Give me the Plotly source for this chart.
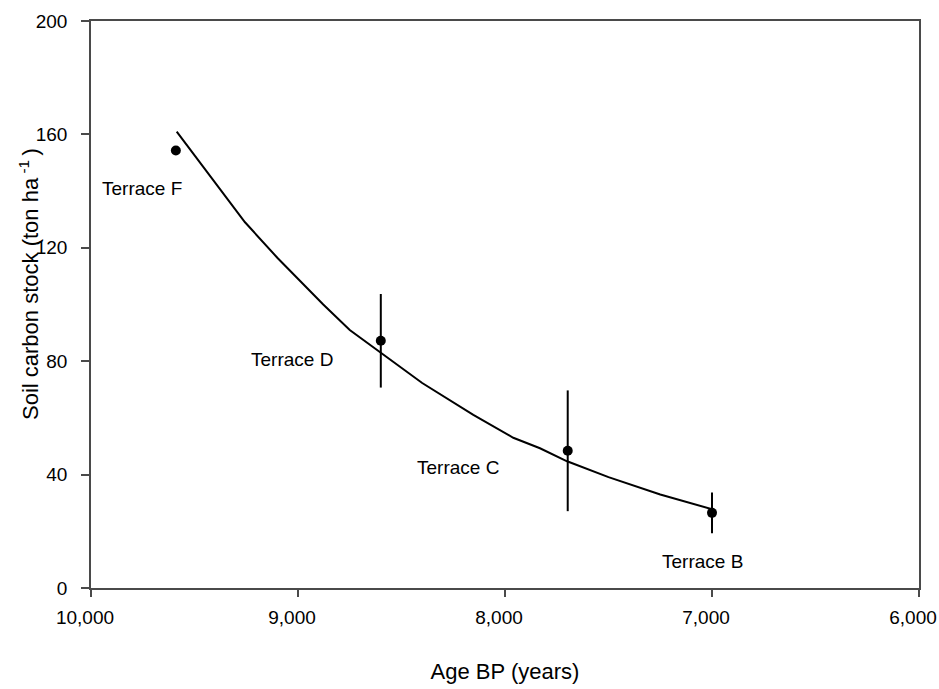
import plotly.graph_objects as go

terraces = ["Terrace F", "Terrace D", "Terrace C", "Terrace B"]
age_bp = [9590, 8600, 7697, 7000]
carbon_stock = [154.3, 87.2, 48.4, 26.5]
carbon_err = [0, 16.5, 21.3, 7.2]

# Fitted curve
fit_age = [9586, 9400, 9256, 9100, 8878, 8750, 8600, 8400, 8153, 7960, 7831, 7700, 7500, 7250, 7000]
fit_stock = [161, 143, 129, 116.5, 100, 91, 83, 72.3, 61.1, 53, 49.3, 44.7, 39.1, 33, 27.8]

# Label positions for each terrace
label_age = [9756, 9029, 8227, 7044]
label_stock = [140.8, 80.5, 42.4, 9.3]

x_ticks = [10000, 9000, 8000, 7000, 6000]
x_ticktext = ["10,000", "9,000", "8,000", "7,000", "6,000"]
y_ticks = [0, 40, 80, 120, 160, 200]

FONT = "Liberation Sans, Arial, sans-serif"
AXIS_COLOR = "#4a4a4a"

fig = go.Figure()

fig.add_trace(go.Scatter(
    x=fit_age, y=fit_stock, mode="lines",
    line=dict(color="black", width=2),
    showlegend=False, hoverinfo="skip",
))

fig.add_trace(go.Scatter(
    x=age_bp, y=carbon_stock, mode="markers",
    marker=dict(color="black", size=10),
    error_y=dict(type="data", array=carbon_err, visible=True,
                 color="black", thickness=2, width=0),
    showlegend=False, text=terraces,
))

for name, ax, ay in zip(terraces, label_age, label_stock):
    fig.add_annotation(x=ax, y=ay, text=name, showarrow=False,
                       font=dict(family=FONT, size=19, color="black"),
                       xanchor="center", yanchor="middle")

fig.add_annotation(
    xref="paper", yref="paper", x=-0.075, y=0.536,
    text="Soil carbon stock (ton ha<sup> -1 </sup>)", textangle=-90,
    showarrow=False, xanchor="center", yanchor="middle",
    font=dict(family=FONT, size=22, color="black"),
)

fig.update_layout(
    width=939, height=689,
    margin=dict(l=91, r=20, t=21, b=101),
    paper_bgcolor="white", plot_bgcolor="white",
    font=dict(family=FONT, size=19, color="black"),
    xaxis=dict(
        range=[10000, 6000], tickvals=x_ticks, ticktext=x_ticktext,
        showgrid=False, zeroline=False, automargin=False,
        showline=True, mirror=True, linecolor=AXIS_COLOR, linewidth=1.5,
        ticks="outside", ticklen=7, tickwidth=1.5, tickcolor=AXIS_COLOR,
        tickfont=dict(family=FONT, size=19, color="black"),
        ticklabelstandoff=4, ticklabelshift=6, ticklabeloverflow="allow",
        title=dict(text="Age BP (years)", standoff=37,
                   font=dict(family=FONT, size=22, color="black")),
    ),
    yaxis=dict(
        range=[0, 200], tickvals=y_ticks,
        showgrid=False, zeroline=False, automargin=False,
        showline=True, mirror=True, linecolor=AXIS_COLOR, linewidth=1.5,
        ticks="outside", ticklen=8, tickwidth=1.5, tickcolor=AXIS_COLOR,
        tickfont=dict(family=FONT, size=19, color="black"),
        ticklabelstandoff=10,
    ),
)

fig.write_html(
    "out.html",
    config={"displayModeBar": False},
    post_script="document.body.style.margin='0';document.body.style.overflow='hidden';",
)
